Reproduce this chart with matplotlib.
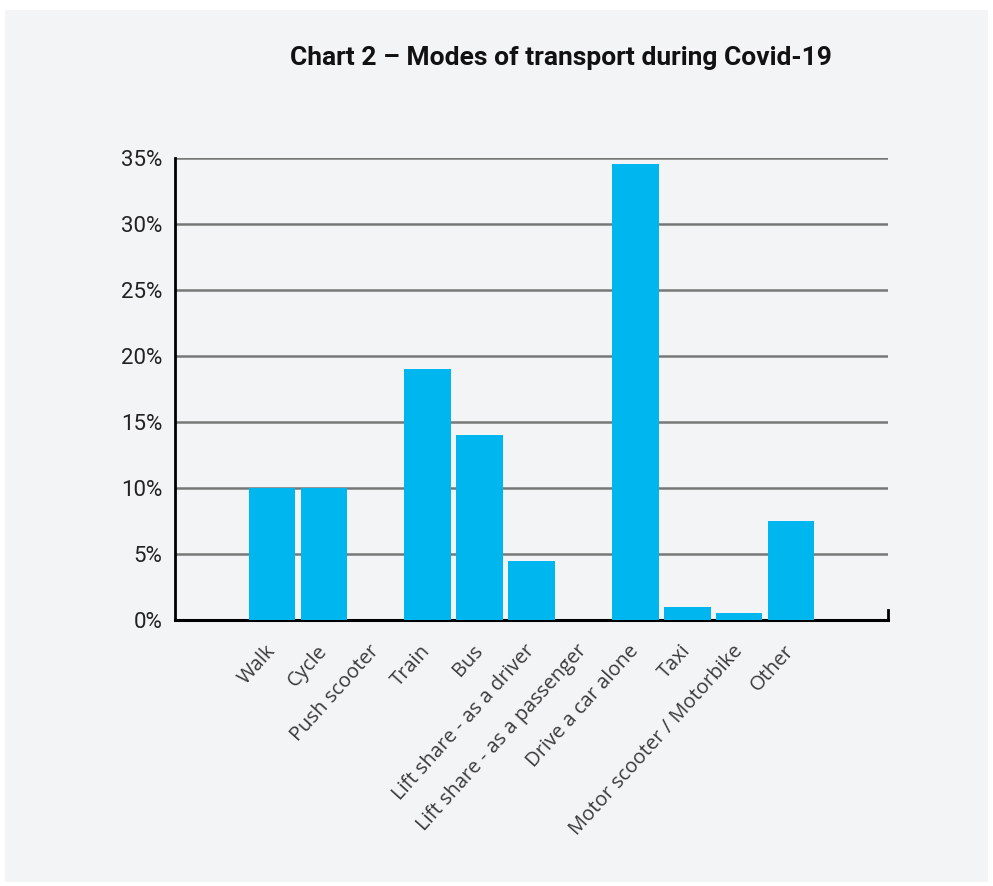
import matplotlib.pyplot as plt
from matplotlib.patches import Rectangle

# data
modes = ['Walk', 'Cycle', 'Push scooter', 'Train', 'Bus',
         'Lift share - as a driver', 'Lift share - as a passenger',
         'Drive a car alone', 'Taxi', 'Motor scooter / Motorbike', 'Other']
share = [10.0, 10.0, 0.0, 19.0, 14.0, 4.5, 0.0, 34.5, 1.0, 0.55, 7.5]
yticks = [0, 5, 10, 15, 20, 25, 30, 35]
title = 'Chart 2 \u2013 Modes of transport during Covid-19'

bg = '#f3f4f6'
bar_col = '#00b6ef'

fig = plt.figure(figsize=(9.93, 8.86), dpi=100, facecolor='white')
# light grey panel with thin white margin
fig.patches.append(Rectangle((5 / 993, 4 / 886), 983 / 993, 872 / 886,
                             transform=fig.transFigure, facecolor=bg,
                             edgecolor='none', zorder=-1))

ax = fig.add_axes([0.1762, 0.3002, 0.7181, 0.522])
ax.set_facecolor(bg)

x = range(len(modes))
ax.bar(x, share, width=0.9, color=bar_col, zorder=3)

ax.set_xlim(-1.87, len(modes) - 1 + 1.87)
ax.set_ylim(0, 35)
ax.set_yticks(yticks)
ax.set_yticklabels([f'{t}%' for t in yticks], fontsize=16, family='Roboto',
                   color='#222222')
ax.grid(axis='y', color='#777777', linewidth=1.8)
ax.set_axisbelow(True)

ax.set_xticks(list(x))
ax.set_xticklabels(modes, rotation=48, ha='right', va='center',
                   rotation_mode='anchor', fontsize=14.5, family='Open Sans',
                   color='#3a3a3a')
ax.tick_params(axis='x', length=0, pad=20)
ax.tick_params(axis='y', length=0, pad=9)

for s in ['top', 'right']:
    ax.spines[s].set_visible(False)
ax.spines['left'].set_linewidth(2)
ax.spines['bottom'].set_linewidth(2.2)
ax.spines['left'].set_color('black')
ax.spines['bottom'].set_color('black')
# small end mark at right of the baseline
ax.plot([1, 1], [0, 0.022], transform=ax.transAxes, color='black',
        linewidth=2, clip_on=False, zorder=4)

fig.text(561 / 993, 1 - 58 / 886, title, ha='center', va='center',
         fontsize=19, fontweight='bold', family='Roboto', color='#111111')

fig.savefig('out.png', dpi=100, facecolor='white')
